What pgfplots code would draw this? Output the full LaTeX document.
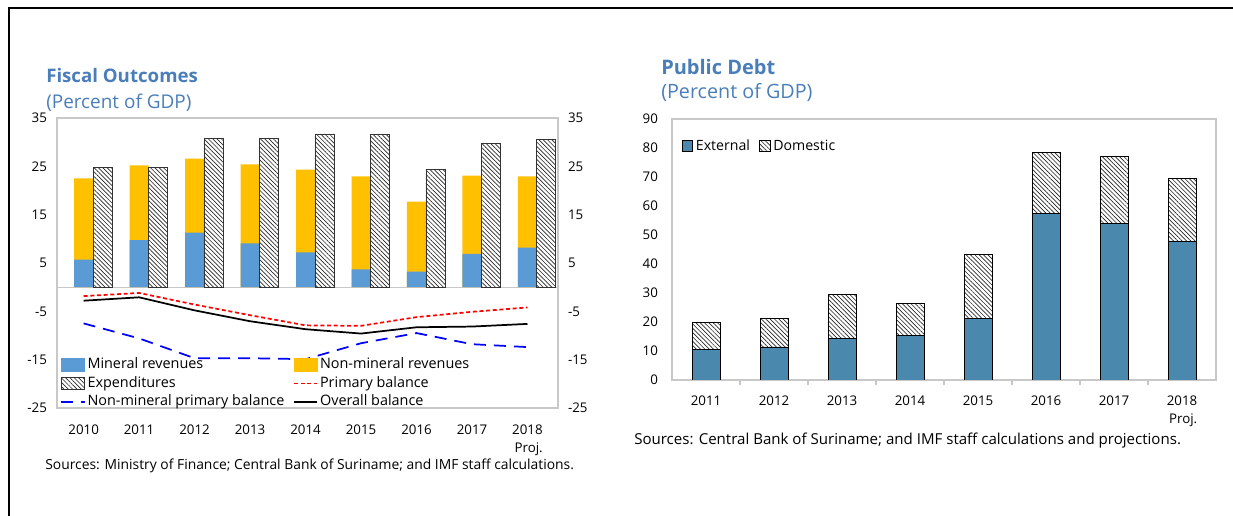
\documentclass[border=0pt]{standalone}
\usepackage{pgfplots}
\pgfplotsset{compat=1.18}
\usepackage{pgfplotstable}
\usepackage{fontspec}
\setmainfont{Open Sans}
\usetikzlibrary{patterns.meta}
\definecolor{minblue}{HTML}{5B9BD5}
\definecolor{nonmin}{HTML}{FFC000}
\definecolor{extblue}{HTML}{4A89AD}
\definecolor{titleblue}{HTML}{4A7EBB}
\definecolor{boxgray}{HTML}{C8C8C8}

\pgfplotstableread{
i mineral nonmin exp primary nonminprim overall
0 5.7  16.8  24.7 -1.85 -7.5  -2.8
1 9.75 15.45 24.7 -1.2  -10.6 -2.1
2 11.3 15.3  30.7 -3.6  -14.7 -4.8
3 9.05 16.35 30.8 -5.8  -14.7 -7.05
4 7.2  17.1  31.7 -7.9  -14.9 -8.7
5 3.7  19.2  31.6 -8.0  -11.6 -9.6
6 3.2  14.5  24.3 -6.2  -9.5  -8.3
7 6.9  16.2  29.8 -5.1  -11.8 -8.15
8 8.2  14.7  30.5 -4.2  -12.4 -7.6
}\fiscal

\pgfplotstableread{
i ext dom
0 10.4 9.3
1 11.4 9.8
2 14.2 15.2
3 15.3 11.0
4 21.1 22.3
5 57.5 20.9
6 54.1 23.0
7 47.9 21.6
}\debt

\tikzset{hatch/.style={pattern={Lines[angle=-45,distance=2.3pt,line width=0.5pt]}, pattern color=black!85}}
\pgfplotsset{
  leg min/.style={legend image code/.code={\fill[minblue] (0pt,-5pt) rectangle (17.5pt,5pt);}},
  leg non/.style={legend image code/.code={\fill[nonmin] (0pt,-5pt) rectangle (17.5pt,5pt);}},
  leg exp/.style={legend image code/.code={\draw[black!80, line width=0.5pt, hatch] (0pt,-4.5pt) rectangle (17.5pt,4.5pt);}},
  leg prim/.style={legend image code/.code={\draw[red, line width=1.3pt, dash pattern=on 3pt off 2pt] (0pt,0pt) -- (17.5pt,0pt);}},
  leg nmp/.style={legend image code/.code={\draw[blue, line width=1.3pt, dash pattern=on 9pt off 6pt] (0pt,0pt) -- (17.5pt,0pt);}},
  leg ov/.style={legend image code/.code={\draw[black, line width=1.3pt] (0pt,0pt) -- (17.5pt,0pt);}},
  leg ext/.style={legend image code/.code={\draw[fill=extblue, draw=black, line width=0.6pt] (0pt,-4pt) rectangle (8pt,4pt);}},
  leg dom/.style={legend image code/.code={\draw[draw=black, line width=0.5pt, hatch] (0pt,-4pt) rectangle (8pt,4pt);}},
}

\begin{document}
\begin{tikzpicture}
\path[use as bounding box] (0,0) rectangle (924.75pt,387pt);
% frame
\draw[line width=1.6pt] (6.75pt,381pt) -- (924.75pt,381pt);
\draw[line width=1.6pt] (6.75pt,381.6pt) -- (6.75pt,0pt);

% ---------------- Fiscal outcomes ----------------
\node[anchor=west, inner sep=0pt, text=titleblue, font=\fontsize{14}{16}\selectfont\bfseries] at (34.5pt,330pt) {Fiscal Outcomes};
\node[anchor=west, inner sep=0pt, text=titleblue, font=\fontsize{14.2}{16}\selectfont] at (34.5pt,309.75pt) {(Percent of GDP)};

\begin{axis}[
  at={(42.75pt,81pt)}, anchor=south west, scale only axis,
  width=375.75pt, height=217.5pt,
  xmin=-0.48, xmax=8.55, ymin=-25, ymax=35,
  ytick={-25,-15,...,35},
  xtick={0,...,8},
  xticklabels={2010,2011,2012,2013,2014,2015,2016,2017,{2018\\Proj.}},
  xticklabel style={align=right, yshift=-9pt},
  yticklabel style={xshift=-4pt},
  major tick length=0pt,
  xtick pos=bottom, ytick pos=left,
  axis line style={boxgray, line width=0.8pt},
  tick label style={font=\fontsize{10}{13.5}\selectfont},
  /pgf/number format/assume math mode=true,
  extra y ticks={0}, extra y tick labels={},
  extra y tick style={grid=major, major grid style={boxgray, line width=0.8pt}},
  legend columns=2,
  legend cell align=left,
  legend style={at={(0.005,0)}, anchor=south west, yshift=-3pt, draw=none, fill=none,
    font=\fontsize{10.8}{12}\selectfont, inner sep=0.5pt, row sep=0pt,
    nodes={text height=8.2pt, text depth=2.6pt, inner sep=1.5pt},
    /tikz/every even column/.append style={column sep=5pt}},
]
\addplot[ybar, bar width=14.25pt, bar shift=-7.1pt, fill=nonmin, draw=none, forget plot]
  table[x expr=\thisrow{i}+0.17, y expr=\thisrow{mineral}+\thisrow{nonmin}]{\fiscal};
\addplot[ybar, bar width=14.25pt, bar shift=-7.1pt, fill=minblue, draw=none, forget plot]
  table[x expr=\thisrow{i}+0.17, y=mineral]{\fiscal};
\addplot[ybar, bar width=14.25pt, bar shift=7.1pt, fill=white, draw=black!80, line width=0.6pt, hatch, forget plot]
  table[x expr=\thisrow{i}+0.17, y=exp]{\fiscal};
\addplot[red, line width=1.3pt, dash pattern=on 3pt off 2pt, forget plot] table[x=i, y=primary]{\fiscal};
\addplot[blue, line width=1.3pt, dash pattern=on 9pt off 6pt, forget plot] table[x=i, y=nonminprim]{\fiscal};
\addplot[black, line width=1.3pt, forget plot] table[x=i, y=overall]{\fiscal};

\addlegendimage{leg min}
\addlegendentry{Mineral revenues}
\addlegendimage{leg non}
\addlegendentry{Non-mineral revenues}
\addlegendimage{leg exp}
\addlegendentry{Expenditures}
\addlegendimage{leg prim}
\addlegendentry{Primary balance}
\addlegendimage{leg nmp}
\addlegendentry{Non-mineral primary balance}
\addlegendimage{leg ov}
\addlegendentry{Overall balance}
\end{axis}

\begin{axis}[
  at={(42.75pt,81pt)}, anchor=south west, scale only axis,
  width=375.75pt, height=217.5pt,
  xmin=-0.48, xmax=8.55, ymin=-25, ymax=35,
  ytick={-25,-15,...,35},
  axis y line*=right, axis x line=none,
  y axis line style={draw=none},
  major tick length=0pt,
  yticklabel style={xshift=4pt},
  tick label style={font=\fontsize{10}{12}\selectfont},
  /pgf/number format/assume math mode=true,
]
\addplot[draw=none] coordinates {(0,0)};
\end{axis}

\node[anchor=west, inner sep=0pt, font=\fontsize{10.4}{12}\selectfont] at (33.75pt,37.5pt)
  {Sources: Ministry of Finance; Central Bank of Suriname; and IMF staff calculations.};

% ---------------- Public debt ----------------
\node[anchor=west, inner sep=0pt, text=titleblue, font=\fontsize{15}{17}\selectfont\bfseries] at (495.75pt,336.75pt) {Public Debt};
\node[anchor=west, inner sep=0pt, text=titleblue, font=\fontsize{14.8}{17}\selectfont] at (495.75pt,317.25pt) {(Percent of GDP)};

\begin{axis}[
  at={(504pt,102pt)}, anchor=south west, scale only axis,
  width=408pt, height=195.75pt,
  ybar stacked, bar width=21pt,
  xmin=-0.5, xmax=7.5, ymin=0, ymax=90,
  ytick={0,10,...,90},
  xtick={0,...,7},
  xticklabels={2011,2012,2013,2014,2015,2016,2017,{2018\\Proj.}},
  xticklabel style={align=right, yshift=-8.5pt},
  yticklabel style={xshift=-7pt},
  major tick length=0pt,
  xtick pos=bottom, ytick pos=left,
  extra x ticks={0.5,1.5,...,6.5}, extra x tick labels={},
  extra x tick style={major tick length=4pt, tick align=outside, major tick style={boxgray, line width=0.8pt}},
  axis line style={boxgray, line width=0.8pt},
  tick label style={font=\fontsize{10}{13.5}\selectfont},
  /pgf/number format/assume math mode=true,
  legend columns=2,
  legend cell align=left,
  legend style={at={(0.015,0.896)}, anchor=west, draw=none, fill=none,
    font=\fontsize{10.6}{12}\selectfont, inner sep=1pt,
    /tikz/every even column/.append style={column sep=5pt}},
]
\addplot[fill=extblue, draw=black, line width=0.6pt, leg ext]
  table[x=i, y=ext]{\debt};
\addlegendentry{External}
\addplot[fill=white, draw=black, line width=0.6pt, hatch, leg dom]
  table[x=i, y=dom]{\debt};
\addlegendentry{Domestic}
\end{axis}

\node[anchor=west, inner sep=0pt, font=\fontsize{11.3}{13}\selectfont] at (475.5pt,56.25pt)
  {Sources: Central Bank of Suriname; and IMF staff calculations and projections.};
\end{tikzpicture}
\end{document}
